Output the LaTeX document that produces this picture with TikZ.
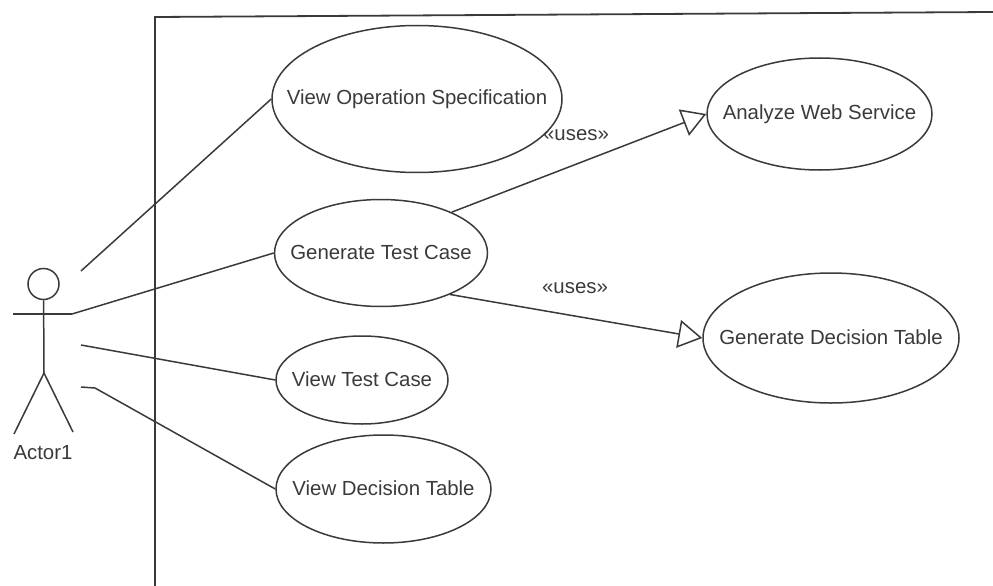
\documentclass[tikz,border=0pt]{standalone}
\usepackage{fontspec}
\setmainfont{Liberation Sans}
\usetikzlibrary{shapes.geometric,arrows.meta}
\definecolor{ink}{HTML}{3A3A3A}
\newcommand{\uctext}[2][1pt]{\raisebox{#1}{\makebox[0pt]{#2}}}
\tikzset{
  x=1pt,y=-1pt,
  usecase/.style={draw=ink,line width=1.5pt,ellipse,inner sep=0pt,text=ink,font=\fontsize{20.4}{23}\selectfont},
  assoc/.style={draw=ink,line width=1.5pt},
  uses/.style={draw=ink,line width=1.5pt,-{Triangle[open,length=24pt,width=28pt,fill=white]}},
  lbl/.style={text=ink,inner sep=0pt,font=\fontsize{20.4}{23}\selectfont},
  stick/.style={draw=ink,line width=1.5pt}
}
\begin{document}
\begin{tikzpicture}
\useasboundingbox (0,0) rectangle (993,586);
\draw[ink,line width=1.8pt] (155,586) -- (155,17) -- (993,12);
\node[usecase,minimum width=290pt,minimum height=147pt] (vos) at (417,99) {\uctext{View Operation Specification}};
\node[usecase,minimum width=213pt,minimum height=107pt] (gtc) at (381,253) {\uctext{Generate Test Case}};
\node[usecase,minimum width=172pt,minimum height=88pt] (vtc) at (362,380) {\uctext{View Test Case}};
\node[usecase,minimum width=215pt,minimum height=108pt] (vdt) at (383.5,489) {\uctext[2.5pt]{View Decision Table}};
\node[usecase,minimum width=225pt,minimum height=112pt] (aws) at (819.5,114) {\uctext{Analyze Web Service}};
\node[usecase,minimum width=256pt,minimum height=130pt] (gdt) at (831,338) {\uctext[2pt]{Generate Decision Table}};
\node[draw=ink,line width=1.5pt,circle,minimum size=31pt,inner sep=0pt] (head) at (43.5,284) {};
\coordinate (hipc) at (44,373);
\coordinate (armL) at (13,314);
\coordinate (armR) at (72,314);
\coordinate (footL) at (14,434);
\coordinate (footR) at (73,432);
\coordinate (a1) at (81,271);
\coordinate (a3) at (81,345);
\coordinate (a4) at (81,387);
\coordinate (a4b) at (95,388);
\draw[stick] (head) -- (hipc);
\draw[stick] (armL) -- (armR);
\draw[stick] (footL) -- (hipc) -- (footR);
\node[lbl] (actor) at (43,453) {Actor1};
\draw[assoc] (a1) -- (vos.west);
\draw[assoc] (armR) -- (gtc.west);
\draw[assoc] (a3) -- (vtc.west);
\draw[assoc] (a4) -- (a4b) -- (vdt.west);
\draw[uses] (gtc.30) -- (aws.west);
\draw[uses] (gtc.-31) -- (gdt.west);
\node[lbl] (u1) at (576,135) {«uses»};
\node[lbl] (u2) at (575,288) {«uses»};
\end{tikzpicture}
\end{document}
